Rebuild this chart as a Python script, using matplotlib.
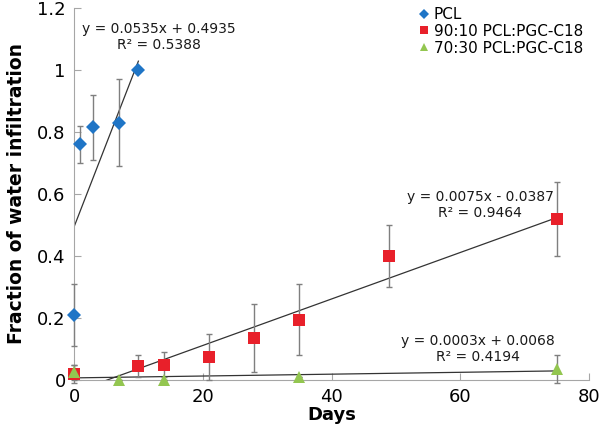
import matplotlib
matplotlib.use("Agg")
import matplotlib.pyplot as plt
from matplotlib.lines import Line2D
import numpy as np

# Data
pcl_x = [0, 1, 3, 7, 10]
pcl_y = [0.21, 0.76, 0.815, 0.83, 1.0]
pcl_err = [0.10, 0.06, 0.105, 0.14, 0.0]

r90_x = [0, 10, 14, 21, 28, 35, 49, 75]
r90_y = [0.02, 0.045, 0.05, 0.075, 0.135, 0.195, 0.40, 0.52]
r90_err = [0.03, 0.035, 0.04, 0.075, 0.11, 0.115, 0.10, 0.12]

r70_x = [0, 7, 14, 35, 75]
r70_y = [0.025, 0.0, 0.0, 0.01, 0.035]
r70_err = [0.025, 0.0, 0.0, 0.0, 0.045]

fits = {
    "pcl": (0.0535, 0.4935, 0, 10, "y = 0.0535x + 0.4935\nR² = 0.5388"),
    "r90": (0.0075, -0.0387, 0, 75, "y = 0.0075x - 0.0387\nR² = 0.9464"),
    "r70": (0.0003, 0.0068, 0, 75, "y = 0.0003x + 0.0068\nR² = 0.4194"),
}

labels = ["PCL", "90:10 PCL:PGC-C18", "70:30 PCL:PGC-C18"]
xticks = [0, 20, 40, 60, 80]
yticks = [0, 0.2, 0.4, 0.6, 0.8, 1.0, 1.2]
yticklabels = ["0", "0.2", "0.4", "0.6", "0.8", "1", "1.2"]

plt.rcParams['font.family'] = ['DejaVu Sans']

fig = plt.figure(figsize=(6, 4.38), dpi=100)
ax = fig.add_axes([74/600, 1-380/438, (589-74)/600, (380-8)/438])

blue = '#1F75C6'
red = '#E8202A'
green = '#93C650'
ecol = '#7f7f7f'

# trendlines
for key in ["pcl", "r90", "r70"]:
    m, b, x0, x1, _ = fits[key]
    xs = np.array([x0, x1])
    ax.plot(xs, m*xs + b, color='#333333', lw=0.9, zorder=2)

series = [
    (pcl_x, pcl_y, pcl_err, 'D', blue, 7.5),
    (r90_x, r90_y, r90_err, 's', red, 9),
    (r70_x, r70_y, r70_err, '^', green, 9),
]
handles = []
for (xs, ys, es, mk, col, ms), lab in zip(series, labels):
    eb = ax.errorbar(xs, ys, yerr=es, fmt='none', ecolor=ecol,
                     elinewidth=1, capsize=2.5, capthick=1, zorder=3)
    for c in eb.lines[1]:
        c.set_clip_on(False)
    for c in eb.lines[2]:
        c.set_clip_on(False)
    ax.plot(xs, ys, linestyle='none', marker=mk, color=col, ms=ms, mew=0,
            zorder=4, clip_on=False)
    handles.append(Line2D([], [], linestyle='none', marker=mk, color=col,
                          ms=6 if mk != 'D' else 5, mew=0, label=lab))

ax.set_xlim(0, 80)
ax.set_ylim(0, 1.2)
ax.set_xticks(xticks)
ax.set_yticks(yticks)
ax.set_yticklabels(yticklabels)
for s in ['top', 'right']:
    ax.spines[s].set_visible(False)
for s in ['left', 'bottom']:
    ax.spines[s].set_color('#a6a6a6')
ax.tick_params(direction='in', length=5, color='#a6a6a6', labelsize=13, pad=6)

ax.set_xlabel("Days", fontsize=13, fontweight='bold', labelpad=0)
ax.set_ylabel("Fraction of water infiltration", fontsize=13.5, fontweight='bold', labelpad=8)

# equation labels (figure pixel coordinates)
def fig_text(px, py, s):
    fig.text(px/600, 1-py/438, s, ha='center', va='center', fontsize=10,
             linespacing=1.1, color='#1a1a1a')

fig_text(159, 37, fits["pcl"][4])
fig_text(480, 205, fits["r90"][4])
fig_text(478, 349, fits["r70"][4])

leg = fig.legend(handles=handles, loc='upper left', bbox_to_anchor=(419/600, 1-7/438),
                 frameon=False, fontsize=11, handlelength=0.6, handletextpad=0.35,
                 labelspacing=0.12, borderaxespad=0, borderpad=0)

fig.savefig("out.png", dpi=100)
